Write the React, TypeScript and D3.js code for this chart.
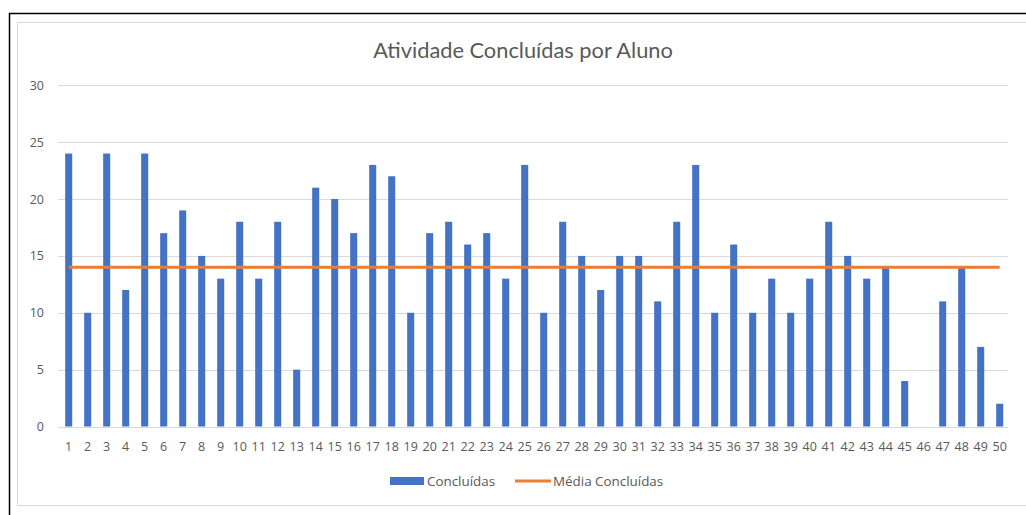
import React, { useEffect } from 'react';
import * as d3 from 'd3';

// alunos 1..50
const alunos = [
  '1', '2', '3', '4', '5', '6', '7', '8', '9', '10',
  '11', '12', '13', '14', '15', '16', '17', '18', '19', '20',
  '21', '22', '23', '24', '25', '26', '27', '28', '29', '30',
  '31', '32', '33', '34', '35', '36', '37', '38', '39', '40',
  '41', '42', '43', '44', '45', '46', '47', '48', '49', '50',
];

const concluidas = [
  24, 10, 24, 12, 24, 17, 19, 15, 13, 18,
  13, 18, 5, 21, 20, 17, 23, 22, 10, 17,
  18, 16, 17, 13, 23, 10, 18, 15, 12, 15,
  15, 11, 18, 23, 10, 16, 10, 13, 10, 13,
  18, 15, 13, 14, 4, 0, 11, 14, 7, 2,
];

const mediaConcluidas = [
  14, 14, 14, 14, 14, 14, 14, 14, 14, 14,
  14, 14, 14, 14, 14, 14, 14, 14, 14, 14,
  14, 14, 14, 14, 14, 14, 14, 14, 14, 14,
  14, 14, 14, 14, 14, 14, 14, 14, 14, 14,
  14, 14, 14, 14, 14, 14, 14, 14, 14, 14,
];

const yTicks = [0, 5, 10, 15, 20, 25, 30];

const App = () => {
  useEffect(() => {
    document.body.style.margin = '0';
  }, []);

  const width = 1026;
  const height = 515;
  const titleFont = 'Lato, "Open Sans", sans-serif';
  const font = '"Open Sans", "Noto Sans", sans-serif';
  const textColor = '#595959';

  const x = d3.scaleBand().domain(alunos).range([59.2, 1009.2]).paddingInner(0.63).paddingOuter(0.315);
  const y = d3.scaleLinear().domain([0, 30]).range([426.5, 85.3]);

  const line = d3
    .line<number>()
    .x((_, i) => (x(alunos[i]) as number) + x.bandwidth() / 2)
    .y((d) => y(d));

  return (
    <svg width={width} height={height} style={{ display: 'block', background: '#fff' }}>
      {/* bordas */}
      <rect x={9.5} y={13.5} width={width + 10} height={height} fill="none" stroke="#000" strokeWidth={1.5} />
      <rect x={17.5} y={22.5} width={width} height={483} fill="#fff" stroke="#d9d9d9" strokeWidth={1} />

      <text x={523} y={58} textAnchor="middle" fontFamily={titleFont} fontSize={21.8} fill={textColor}>
        Atividade Concluídas por Aluno
      </text>

      {/* grade e eixo y */}
      {yTicks.map((t) => (
        <g key={t}>
          <line x1={58} x2={1008} y1={Math.round(y(t)) + 0.5} y2={Math.round(y(t)) + 0.5} stroke="#d9d9d9" strokeWidth={1} />
          <text x={44} y={y(t) + 4.5} textAnchor="end" fontFamily={font} fontSize={12.5} fill={textColor}>
            {t}
          </text>
        </g>
      ))}

      {/* barras */}
      {concluidas.map((v, i) => (
        <rect
          key={alunos[i]}
          x={x(alunos[i])}
          y={y(v)}
          width={x.bandwidth()}
          height={y(0) - y(v)}
          fill="#4472C4"
        />
      ))}

      {/* linha da média */}
      <path d={line(mediaConcluidas) || ''} fill="none" stroke="#ED7D31" strokeWidth={3} />

      {/* rótulos eixo x */}
      {alunos.map((a) => (
        <text
          key={a}
          x={(x(a) as number) + x.bandwidth() / 2}
          y={451}
          textAnchor="middle"
          fontFamily={font}
          fontSize={12.5}
          fill={textColor}
        >
          {a}
        </text>
      ))}

      {/* legenda */}
      <rect x={390} y={477} width={34} height={8} fill="#4472C4" />
      <text x={427} y={486} fontFamily={font} fontSize={13.4} fill={textColor}>
        Concluídas
      </text>
      <line x1={515} x2={551} y1={481} y2={481} stroke="#ED7D31" strokeWidth={3} />
      <text x={553} y={486} fontFamily={font} fontSize={13.4} fill={textColor}>
        Média Concluídas
      </text>
    </svg>
  );
};

export default App;
